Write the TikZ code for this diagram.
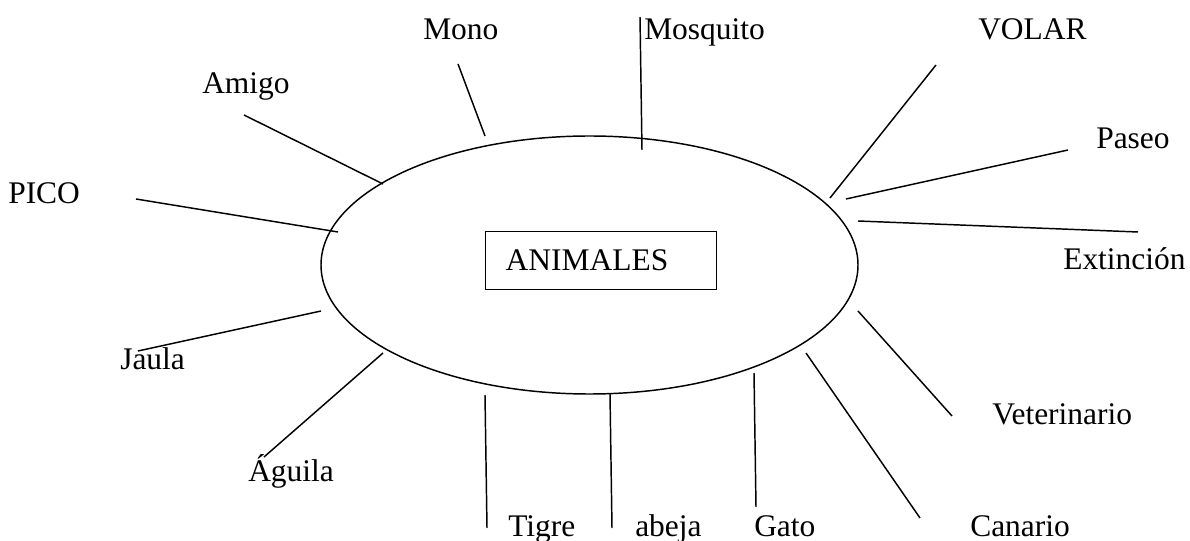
\documentclass[tikz,border=0pt]{standalone}
\usepackage{fontspec}
\setmainfont{Liberation Serif}
\usetikzlibrary{shapes.geometric}

\begin{document}
\begin{tikzpicture}[
    x=0.75pt, y=-0.75pt,
    word/.style={anchor=base west, inner sep=0pt,
                 font=\fontsize{23.6}{28}\selectfont},
    hub/.style={ellipse, draw, line width=1.1pt, inner sep=0pt,
                minimum width=402.75pt, minimum height=193.5pt},
    tag/.style={rectangle, draw, line width=1.1pt, anchor=north west,
                minimum height=43.5pt, inner xsep=15pt, inner ysep=0pt,
                text width=143.25pt, align=left,
                font=\fontsize{23.6}{28}\selectfont},
    spoke/.style={line width=1.1pt},
  ]

  \useasboundingbox (0,0) rectangle (1190,541);

  % Centre
  \node[hub] (oval) at (589.5,265) {};
  \node[tag] (animales) at (485,231) {ANIMALES};

  % Words
  \node[word] (mono)     at (423,40)   {Mono};
  \node[word] (amigo)    at (202,94)   {Amigo};
  \node[word] (pico)     at (8,204)    {PICO};
  \node[word] (mosquito) at (644,40)   {Mosquito};
  \node[word] (volar)    at (978,40)   {VOLAR};
  \node[word] (paseo)    at (1096,149) {Paseo};
  \node[word] (extincion) at (1063,270) {Extinción};
  \node[word] (jaula)    at (120,370)  {Jaula};
  \node[word] (aguila)   at (248,482)  {Águila};
  \node[word] (tigre)    at (508,537)  {Tigre};
  \node[word] (abeja)    at (635,537)  {abeja};
  \node[word] (gato)     at (754,537)  {Gato};
  \node[word] (canario)  at (970,537)  {Canario};
  \node[word] (veterinario) at (992,425) {Veterinario};

  % Line ends
  \coordinate (mono-a)  at (458,64);   \coordinate (mono-b)  at (485,136);
  \coordinate (amigo-a) at (244,115);  \coordinate (amigo-b) at (383,184);
  \coordinate (pico-a)  at (136,199);  \coordinate (pico-b)  at (338,232);
  \coordinate (mosq-a)  at (640,17);   \coordinate (mosq-b)  at (642,150);
  \coordinate (volar-a) at (936,65);   \coordinate (volar-b) at (830,198);
  \coordinate (paseo-a) at (1068,150); \coordinate (paseo-b) at (846,199);
  \coordinate (ext-a)   at (1138,232); \coordinate (ext-b)   at (858,221);
  \coordinate (jaula-a) at (138,351);  \coordinate (jaula-b) at (321,311);
  \coordinate (agui-a)  at (264,457);  \coordinate (agui-b)  at (383,353);
  \coordinate (tigre-a) at (487,528);  \coordinate (tigre-b) at (485,395);
  \coordinate (abeja-a) at (612,528);  \coordinate (abeja-b) at (610,394);
  \coordinate (gato-a)  at (756,507);  \coordinate (gato-b)  at (754,373);
  \coordinate (can-a)   at (920,518);  \coordinate (can-b)   at (806,353);
  \coordinate (vet-a)   at (952,416);  \coordinate (vet-b)   at (858,311);

  % Spokes
  \draw[spoke] (mono-a)  -- (mono-b);
  \draw[spoke] (amigo-a) -- (amigo-b);
  \draw[spoke] (pico-a)  -- (pico-b);
  \draw[spoke] (mosq-a)  -- (mosq-b);
  \draw[spoke] (volar-a) -- (volar-b);
  \draw[spoke] (paseo-a) -- (paseo-b);
  \draw[spoke] (ext-a)   -- (ext-b);
  \draw[spoke] (jaula-a) -- (jaula-b);
  \draw[spoke] (agui-a)  -- (agui-b);
  \draw[spoke] (tigre-a) -- (tigre-b);
  \draw[spoke] (abeja-a) -- (abeja-b);
  \draw[spoke] (gato-a)  -- (gato-b);
  \draw[spoke] (can-a)   -- (can-b);
  \draw[spoke] (vet-a)   -- (vet-b);

\end{tikzpicture}
\end{document}
